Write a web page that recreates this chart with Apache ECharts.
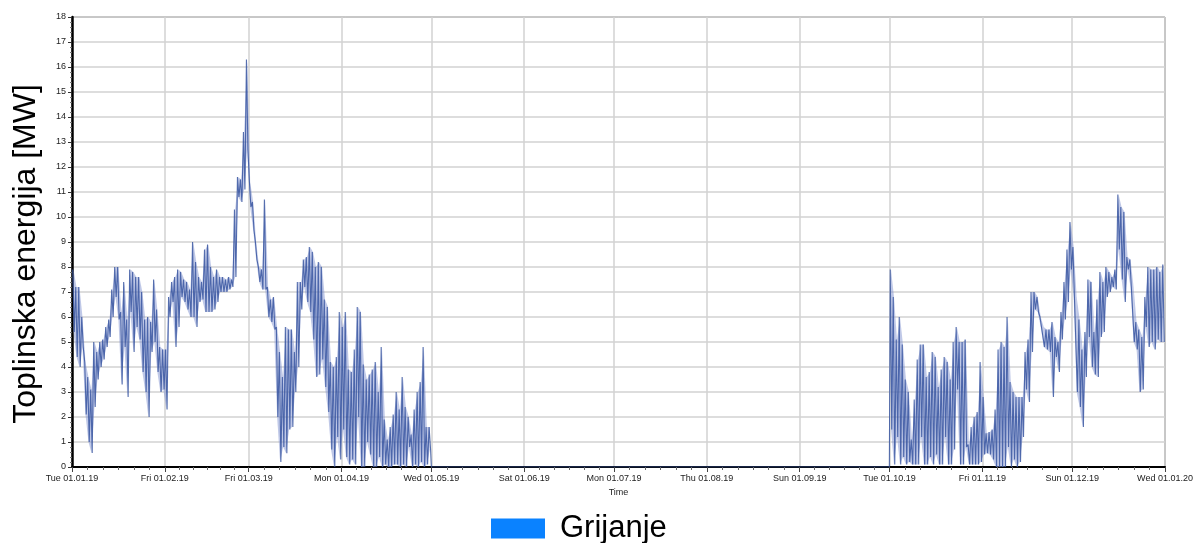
<!DOCTYPE html>
<html>
<head>
<meta charset="utf-8">
<script src="https://cdn.jsdelivr.net/npm/echarts@6/dist/echarts.min.js"></script>
<style>
html,body{margin:0;padding:0;background:#fff;}
#chart{width:1200px;height:543px;}
</style>
</head>
<body>
<div id="chart"></div>
<script>
// Day-of-year of each month start (2019) and the tick labels
const monthStarts = [0,31,59,90,120,151,181,212,243,273,304,334,365];
const monthLabels = ['Tue 01.01.19','Fri 01.02.19','Fri 01.03.19','Mon 01.04.19','Wed 01.05.19','Sat 01.06.19','Mon 01.07.19','Thu 01.08.19','Sun 01.09.19','Tue 01.10.19','Fri 01.11.19','Sun 01.12.19','Wed 01.01.20'];

// Heating season 1: daily high / low (MW), days 0..119
const springStart = 0;
const springHi = [7.9,7.2,7.2,6.0,4.2,3.6,3.1,5.0,4.6,5.0,5.1,5.6,5.9,7.1,8.0,8.0,6.2,7.4,5.9,7.9,
  7.8,7.6,7.6,7.0,5.9,6.0,5.8,7.5,6.3,4.8,4.7,4.7,6.8,7.4,7.6,7.9,7.8,7.5,7.4,7.1,
  9.0,8.2,7.6,7.4,8.7,8.9,8.0,7.6,7.9,7.6,7.6,7.5,7.6,7.5,10.3,11.6,11.5,13.4,16.3,11.4,
  10.6,9.0,8.0,7.9,10.7,7.2,6.7,6.8,5.6,4.6,3.6,5.6,5.5,5.5,4.6,7.4,7.4,8.3,8.4,8.8,
  8.6,8.0,8.2,8.0,6.7,6.4,4.2,4.0,4.4,6.2,5.6,6.2,3.9,3.8,4.7,6.4,6.2,4.1,3.5,3.7,
  3.9,4.2,3.0,4.8,1.9,1.1,1.6,2.1,3.0,2.3,3.6,2.4,2.0,1.3,2.3,3.0,3.4,4.8,1.6,1.6];
const springLo = [5.4,4.4,4.0,4.8,2.1,1.0,0.56,2.4,3.5,4.0,4.3,4.8,5.2,6.0,6.8,5.9,3.3,4.8,2.8,6.2,
  4.6,5.6,5.1,3.8,3.0,2.0,4.6,5.0,3.8,3.0,3.1,2.3,6.0,6.6,4.8,5.6,6.8,6.6,6.3,6.0,
  6.0,5.6,6.6,6.7,6.2,6.2,6.2,6.3,6.6,7.0,7.0,7.0,7.1,7.2,7.6,10.8,10.6,11.1,12.7,10.4,
  9.5,8.3,7.4,7.1,7.1,6.0,5.8,5.5,2.0,0.2,0.8,0.55,1.5,1.6,3.0,4.0,6.3,7.2,6.6,6.2,
  5.1,3.6,3.7,4.3,3.2,2.2,0.7,0,1.2,0.3,1.5,0.4,0.1,0.3,0.1,2.0,0,0,1.0,0.5,
  0,0,0.4,0,0.1,0,0,0.1,0.1,0,0.1,0,0.8,0,0.1,0,0.2,0,0.1,0.7];

// Summer: no heating (value 0) between these days
const summerFrom = 120;
const summerTo = 273;
const summerValue = 0;

// Heating season 2: daily high / low (MW), days 273..364
const autumnStart = 273;
const autumnHi = [7.9,6.8,5.1,6.0,4.9,3.5,3.0,1.1,2.7,4.3,4.9,4.9,3.6,3.8,4.6,4.4,3.2,3.9,4.4,4.2,
  3.5,5.0,5.6,5.0,5.0,5.1,0.9,1.6,2.0,2.2,4.2,2.8,1.35,1.4,1.5,2.3,4.7,5.0,4.8,6.0,
  3.4,3.0,2.8,2.8,2.8,4.6,5.1,7.0,7.0,6.8,6.0,5.6,5.5,5.5,5.8,5.2,5.0,6.2,7.4,8.7,
  9.8,8.8,6.8,5.9,4.7,5.4,7.5,7.4,5.4,6.7,7.8,7.4,8.0,7.8,7.6,7.9,10.9,10.4,10.2,8.4,
  8.3,7.2,5.8,5.5,5.2,6.8,8.0,7.9,7.9,8.0,7.8,8.1];
const autumnLo = [1.5,0.1,1.2,0.1,0.4,0.1,0.2,0.1,0.1,0.1,1.2,0.1,0.1,0.4,0.1,0.5,0.1,0.1,1.2,0.1,
  0.1,0.7,3.1,0.1,0.1,0.8,0.1,0.1,0.1,0.1,0.2,0.5,0.55,0.5,0.3,0,0,0,0,0.8,
  0,0.3,0,0.2,1.2,3.1,2.6,4.6,6.3,6.2,5.6,4.8,4.7,4.6,2.8,4.4,3.8,5.1,5.9,6.6,
  7.9,6.8,3.0,2.4,1.6,3.6,5.2,4.0,3.7,3.6,5.2,5.4,6.8,7.0,7.2,7.1,8.7,7.5,6.6,7.9,
  7.2,5.0,4.7,3.0,3.1,5.6,4.8,5.0,4.7,5.1,5.0,5.0];

const seriesName = 'Grijanje';

// Zig-zag line (high then low each day)
function seasonPoints(start, hi, lo) {
  const pts = [];
  for (let i = 0; i < hi.length; i++) {
    pts.push([start + i + 0.25, hi[i]]);
    pts.push([start + i + 0.75, lo[i]]);
  }
  return pts;
}
const points = [].concat(
  seasonPoints(springStart, springHi, springLo),
  [[summerFrom, summerValue], [summerTo - 0.05, summerValue]],
  seasonPoints(autumnStart, autumnHi, autumnLo)
);

// Daily range band items: [day, low, high]
function bandItems(start, hi, lo) { return lo.map((v, i) => [start + i + 0.5, v, hi[i]]); }
const band = [].concat(bandItems(springStart, springHi, springLo), bandItems(autumnStart, autumnHi, autumnLo));

// Minor tick positions: each month split into 6 parts
const minorTicks = [];
for (let m = 0; m < monthStarts.length - 1; m++) {
  const a = monthStarts[m], b = monthStarts[m + 1];
  for (let k = 1; k < 6; k++) minorTicks.push(a + (b - a) * k / 6);
}

function renderBand(params, api) {
  const i = params.dataIndex;
  const cur = band[i], nxt = band[i + 1];
  if (!nxt || nxt[0] - cur[0] > 1.01) return null;
  const pts = [
    api.coord([cur[0], cur[1]]), api.coord([cur[0], cur[2]]),
    api.coord([nxt[0], nxt[2]]), api.coord([nxt[0], nxt[1]])
  ];
  return {type: 'polygon', shape: {points: pts}, style: {fill: 'rgba(128,145,208,0.5)'}, silent: true};
}

const FONT = '"Liberation Sans", Arial, sans-serif';
const chart = echarts.init(document.getElementById('chart'), null, {renderer: 'canvas'});
chart.setOption({
  animation: false,
  backgroundColor: '#fff',
  textStyle: {fontFamily: FONT},
  grid: {left: 72, right: 35, top: 17, bottom: 76, show: true, borderColor: '#555', borderWidth: 1, backgroundColor: 'transparent'},
  legend: {
    left: 486, top: 508,
    data: [{name: seriesName, icon: 'rect', itemStyle: {color: '#0a82ff'}}],
    itemWidth: 54, itemHeight: 20,
    textStyle: {fontSize: 31, color: '#000', fontFamily: FONT, padding: [0, 0, 0, 10]}
  },
  xAxis: [{
    type: 'value', min: 0, max: 365,
    name: 'Time', nameLocation: 'middle', nameGap: 20,
    nameTextStyle: {fontSize: 9, color: '#222', fontFamily: FONT},
    axisLine: {show: true, lineStyle: {color: '#000', width: 2}},
    axisTick: {show: true, customValues: monthStarts, length: 5, lineStyle: {color: '#444'}},
    axisLabel: {show: true, customValues: monthStarts, fontSize: 9, color: '#222', margin: 7,
      formatter: v => { const i = monthStarts.indexOf(Math.round(v)); return i >= 0 ? monthLabels[i] : ''; }},
    splitLine: {show: true, lineStyle: {color: '#d2d2d2', width: 1.5}}
  }, {
    type: 'value', min: 0, max: 365, position: 'bottom', offset: 0,
    axisLine: {show: false},
    axisTick: {show: true, customValues: minorTicks, length: 3, lineStyle: {color: '#666'}},
    axisLabel: {show: false},
    splitLine: {show: false}
  }],
  yAxis: {
    type: 'value', min: 0, max: 18, interval: 1,
    name: 'Toplinska energija [MW]', nameLocation: 'middle', nameGap: 30,
    nameTextStyle: {fontSize: 32, color: '#000', fontFamily: FONT, padding: [0, 24, 0, 0]},
    axisLine: {show: true, lineStyle: {color: '#000', width: 2.5}},
    axisTick: {show: true, length: 4, lineStyle: {color: '#333'}},
    minorTick: {show: true, splitNumber: 5, length: 2, lineStyle: {color: '#777'}},
    axisLabel: {fontSize: 9, color: '#222', margin: 6},
    splitLine: {show: true, lineStyle: {color: '#d2d2d2', width: 1.5}}
  },
  series: [{
    name: 'band', type: 'custom', xAxisIndex: 0, data: band, renderItem: renderBand,
    encode: {x: 0, y: [1, 2]}, silent: true, z: 1, clip: true
  }, {
    name: seriesName, type: 'line', xAxisIndex: 0, data: points,
    showSymbol: false, symbol: 'none', sampling: null,
    lineStyle: {color: 'rgba(55,85,160,0.85)', width: 1.1},
    itemStyle: {color: '#3d5a9e'}, z: 2
  }]
});
</script>
</body>
</html>
